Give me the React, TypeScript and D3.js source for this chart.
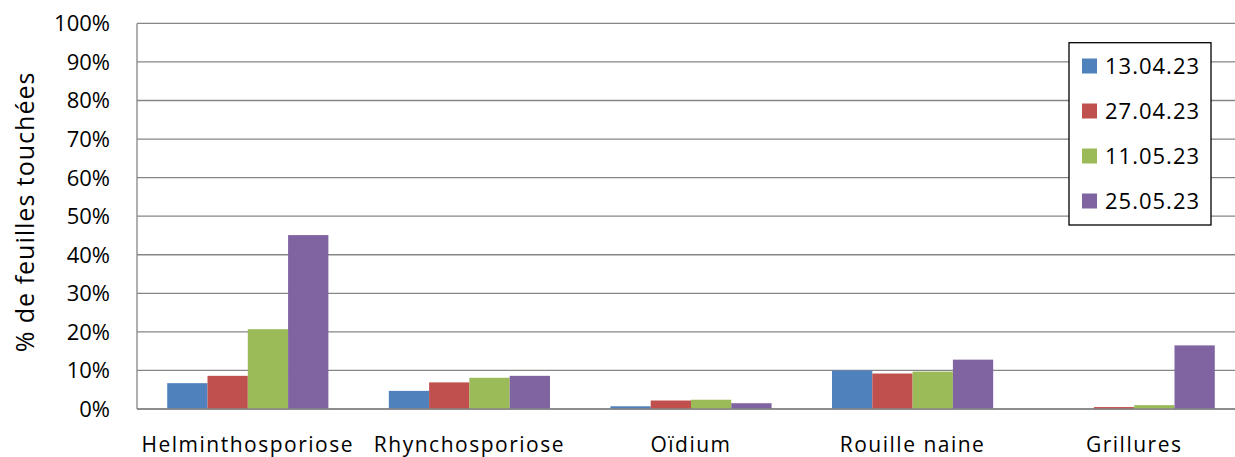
import React from "react";
import * as d3 from "d3";

const categories = ["Helminthosporiose", "Rhynchosporiose", "Oïdium", "Rouille naine", "Grillures"];
const seriesNames = ["13.04.23", "27.04.23", "11.05.23", "25.05.23"];
const s1 = [0.067, 0.047, 0.007, 0.100, 0];
const s2 = [0.086, 0.069, 0.022, 0.092, 0.005];
const s3 = [0.207, 0.081, 0.024, 0.097, 0.010];
const s4 = [0.451, 0.086, 0.015, 0.128, 0.165];
const seriesValues = [s1, s2, s3, s4];
const colors = ["#4F81BD", "#C0504D", "#9BBB59", "#8064A2"];
const yTicks = [0, 0.1, 0.2, 0.3, 0.4, 0.5, 0.6, 0.7, 0.8, 0.9, 1.0];

const W = 1235;
const H = 457;
const FONT = "'Open Sans', sans-serif";

export default function App() {
  const left = 137, right = 1245, top = 23.4, bottom = 409;
  const x = d3.scaleBand<string>().domain(categories).range([left, right]).paddingInner(0).paddingOuter(0);
  const bw = x.bandwidth();
  const gap = bw * (1.5 / 5.5);
  const xs = d3.scaleBand<string>().domain(seriesNames).range([gap / 2, bw - gap / 2]).padding(0);
  const y = d3.scaleLinear().domain([0, 1]).range([bottom, top]);
  const fmt = d3.format(".0%");

  return (
    <svg width={W} height={H} style={{ position: "absolute", left: 0, top: 0, background: "#fff" }}>
      <rect x={0} y={0} width={W} height={H} fill="#fff" />
      {yTicks.map((t) => (
        <line key={"g" + t} x1={left} x2={right} y1={y(t)} y2={y(t)} stroke="#868686" strokeWidth={1.3} />
      ))}
      <line x1={left} x2={left} y1={top} y2={bottom} stroke="#868686" strokeWidth={1.3} />
      {yTicks.map((t) => (
        <text key={"t" + t} x={110} y={y(t)} dy="0.36em" textAnchor="end" fontFamily={FONT} fontSize={22} fill="#000">
          {fmt(t)}
        </text>
      ))}
      {seriesValues.map((vals, si) =>
        vals.map((v, ci) => (
          <rect
            key={si + "-" + ci}
            x={(x(categories[ci]) as number) + (xs(seriesNames[si]) as number)}
            y={y(v)}
            width={xs.bandwidth()}
            height={bottom - y(v)}
            fill={colors[si]}
          />
        ))
      )}
      <line x1={left} x2={right} y1={bottom} y2={bottom} stroke="#868686" strokeWidth={1.3} />
      {categories.map((c) => (
        <text key={c} x={(x(c) as number) + bw / 2} y={452} textAnchor="middle" fontFamily={FONT} fontSize={21} letterSpacing={1.5} fill="#000">
          {c}
        </text>
      ))}
      <text
        transform={`translate(34,212) rotate(-90)`}
        textAnchor="middle"
        fontFamily={FONT}
        fontSize={25}
        letterSpacing={1}
        fill="#000"
      >
        % de feuilles touchées
      </text>
      <rect x={1069} y={42.7} width={142} height={182.3} fill="#fff" stroke="#000" strokeWidth={1.3} />
      {seriesNames.map((n, i) => (
        <g key={n} transform={`translate(0,${66 + i * 45})`}>
          <rect x={1082} y={-7.5} width={15} height={15} fill={colors[i]} />
          <text x={1105} y={0} dy="0.36em" fontFamily={FONT} fontSize={22} letterSpacing={1} fill="#000">
            {n}
          </text>
        </g>
      ))}
    </svg>
  );
}
